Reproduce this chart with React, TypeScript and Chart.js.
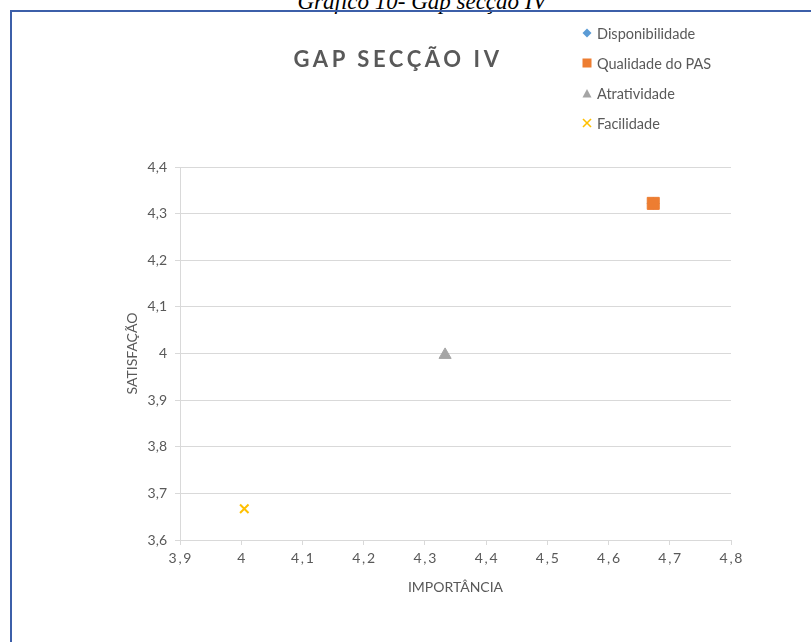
import React, { useEffect, useRef } from 'react';
import { Chart, registerables } from 'chart.js';

Chart.register(...registerables);

const seriesNames = ['Disponibilidade', 'Qualidade do PAS', 'Atratividade', 'Facilidade'];
const importancia = [4.673, 4.673, 4.333, 4.005];
const satisfacao = [4.322, 4.322, 3.997, 3.667];
const seriesColors = ['#5B9BD5', '#ED7D31', '#A5A5A5', '#FFC000'];
const pointStyles = ['rectRot', 'rect', 'triangle', 'crossRot'];
const pointRadii = [6, 8.5, 7, 6];
const drawOrder = [9, 1, 1, 1];

const chartTitle = 'GAP SECÇÃO IV';
const caption = 'Gráfico 10- Gap secção IV';
const xTitle = 'IMPORTÂNCIA';
const yTitle = 'SATISFAÇÃO';
const xMin = 3.9;
const xMax = 4.8;
const yMin = 3.6;
const yMax = 4.4;
const tickStep = 0.1;

const FONT = 'Lato, "Open Sans", sans-serif';
const TEXT = '#595959';
const GRID = '#D9D9D9';

function fmt(v: number): string {
  const r = Math.round(v * 10) / 10;
  return Number.isInteger(r) ? String(r) : r.toFixed(1).replace('.', ',');
}

function LegendMarker({ i }: { i: number }) {
  const c = seriesColors[i];
  let shape: React.ReactNode = null;
  if (i === 0) shape = <polygon points="5,0.5 9.5,5 5,9.5 0.5,5" fill={c} />;
  if (i === 1) shape = <rect x="0.5" y="0.5" width="9" height="9" fill={c} />;
  if (i === 2) shape = <polygon points="5,1 9.5,9.5 0.5,9.5" fill={c} />;
  if (i === 3)
    shape = (
      <g stroke={c} strokeWidth="1.6">
        <line x1="1" y1="1" x2="9" y2="9" />
        <line x1="9" y1="1" x2="1" y2="9" />
      </g>
    );
  return (
    <svg width="10" height="10" style={{ display: 'block', marginRight: 5 }}>
      {shape}
    </svg>
  );
}

export default function App() {
  const ref = useRef<HTMLCanvasElement | null>(null);

  useEffect(() => {
    if (!ref.current) return;
    const chart = new Chart(ref.current, {
      type: 'scatter',
      data: {
        datasets: seriesNames.map((name, i) => ({
          label: name,
          data: [{ x: importancia[i], y: satisfacao[i] }],
          backgroundColor: seriesColors[i],
          borderColor: seriesColors[i],
          borderWidth: i === 3 ? 2 : 1,
          pointStyle: pointStyles[i] as any,
          pointRadius: pointRadii[i],
          pointHoverRadius: pointRadii[i],
          order: drawOrder[i],
        })),
      },
      options: {
        animation: false,
        responsive: false,
        devicePixelRatio: 1,
        layout: { padding: { left: 120, right: 80, top: 167, bottom: 42 } },
        plugins: {
          legend: { display: false },
          title: { display: false },
          tooltip: { enabled: false },
        },
        scales: {
          x: {
            type: 'linear',
            min: xMin,
            max: xMax,
            afterFit: (s: any) => {
              s.height = 60;
            },
            ticks: {
              stepSize: tickStep,
              color: TEXT,
              padding: 5,
              font: { family: FONT, size: 14 },
              callback: (v: any) => fmt(Number(v)).split('').join('\u2009'),
            },
            grid: {
              drawOnChartArea: false,
              drawTicks: true,
              tickLength: 5,
              color: GRID,
            },
            border: { color: GRID, width: 1 },
            title: {
              display: true,
              text: xTitle,
              color: TEXT,
              font: { family: FONT, size: 14 },
              padding: { top: 4, bottom: 4 },
            },
          },
          y: {
            type: 'linear',
            min: yMin,
            max: yMax,
            afterFit: (s: any) => {
              s.width = 60;
            },
            ticks: {
              stepSize: tickStep,
              color: TEXT,
              padding: 8,
              font: { family: FONT, size: 14 },
              callback: (v: any) => fmt(Number(v)),
            },
            grid: {
              drawOnChartArea: true,
              drawTicks: true,
              tickLength: 5,
              color: GRID,
            },
            border: { color: GRID, width: 1 },
            title: {
              display: true,
              text: yTitle,
              color: TEXT,
              font: { family: FONT, size: 14 },
              padding: { top: 4, bottom: 4 },
            },
          },
        },
      } as any,
    });
    return () => chart.destroy();
  }, []);

  return (
    <div
      style={{
        position: 'absolute',
        left: 0,
        top: 0,
        width: 811,
        height: 642,
        overflow: 'hidden',
        background: '#fff',
      }}
    >
      <div
        style={{
          position: 'absolute',
          left: 0,
          top: -10,
          width: 844,
          textAlign: 'center',
          fontFamily: '"Liberation Serif", "Times New Roman", serif',
          fontStyle: 'italic',
          fontSize: 23,
          lineHeight: '23px',
          color: '#000',
          whiteSpace: 'nowrap',
        }}
      >
        {caption}
      </div>
      <div
        style={{
          position: 'absolute',
          left: 10,
          top: 10,
          width: 900,
          height: 700,
          borderLeft: '2px solid #3C5FA9',
          borderTop: '2px solid #3C5FA9',
        }}
      />
      <canvas
        ref={ref}
        width={811}
        height={642}
        style={{ position: 'absolute', left: 0, top: 0 }}
      />
      <div
        style={{
          position: 'absolute',
          left: 188,
          top: 45,
          width: 420,
          textAlign: 'center',
          fontFamily: FONT,
          fontWeight: 700,
          fontSize: 22,
          letterSpacing: 3.6,
          color: TEXT,
          lineHeight: '28px',
          whiteSpace: 'nowrap',
        }}
      >
        {chartTitle}
      </div>
      <div
        style={{
          position: 'absolute',
          left: 582,
          top: 18,
          fontFamily: FONT,
          fontSize: 14.5,
          color: TEXT,
        }}
      >
        {seriesNames.map((n, i) => (
          <div
            key={n}
            style={{ display: 'flex', alignItems: 'center', height: 30, whiteSpace: 'nowrap' }}
          >
            <LegendMarker i={i} />
            <span>{n}</span>
          </div>
        ))}
      </div>
    </div>
  );
}
